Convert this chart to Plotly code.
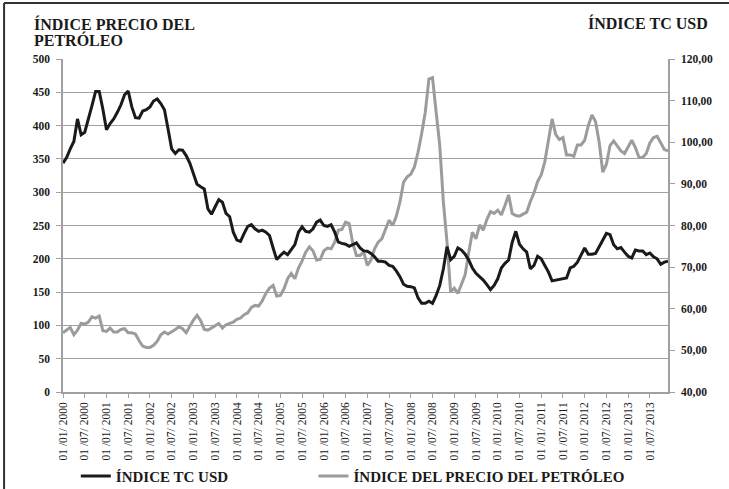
import plotly.graph_objects as go

months = [f"{y}-{m:02d}" for y in range(2000, 2014) for m in range(1, 13)]

tc_usd = [95.0, 96.3, 98.4, 100.2, 105.6, 101.8, 102.4, 105.3, 108.8, 112.2, 112.2, 108.0,
          103.0, 104.5, 105.6, 107.2, 109.0, 111.4, 112.3, 108.5, 105.9, 105.8, 107.5, 107.8,
          108.5, 109.9, 110.4, 109.3, 107.8, 103.2, 98.4, 97.3, 98.2, 98.1, 96.8, 95.0,
          92.5, 89.9, 89.3, 88.8, 84.0, 82.7, 84.5, 86.2, 85.6, 82.9, 82.1, 78.4,
          76.5, 76.2, 78.1, 79.8, 80.2, 79.2, 78.6, 78.9, 78.4, 77.6, 74.6, 71.8,
          72.8, 73.6, 73.0, 74.1, 75.4, 78.4, 79.7, 78.6, 78.4, 79.2, 80.8, 81.3,
          80.0, 79.8, 80.2, 78.4, 76.0, 75.7, 75.5, 75.0, 75.4, 75.8, 74.6, 73.9,
          73.8, 73.3, 72.5, 71.4, 71.4, 71.2, 70.4, 70.2, 69.1, 67.7, 65.9, 65.4,
          65.3, 65.0, 62.6, 61.3, 61.3, 61.8, 61.3, 63.2, 65.6, 69.6, 74.9, 71.8,
          72.6, 74.6, 74.1, 73.1, 71.7, 69.8, 68.5, 67.8, 66.9, 65.8, 64.6, 65.6,
          67.2, 69.8, 70.9, 71.7, 76.0, 78.6, 75.5, 74.4, 73.6, 69.6, 70.4, 72.6,
          72.0, 70.4, 68.8, 66.7, 66.9, 67.0, 67.2, 67.4, 69.8, 70.2, 71.2, 73.1,
          74.6, 73.1, 73.1, 73.3, 74.9, 76.5, 78.1, 77.8, 75.4, 74.4, 74.7, 73.6,
          72.6, 72.2, 74.1, 73.9, 73.9, 73.0, 73.4, 72.5, 72.0, 70.7, 71.2, 71.4]

petroleo = [89, 93, 97, 86, 93, 103, 102, 105, 113, 111, 114, 92,
            91, 96, 90, 90, 94, 95, 89, 89, 87, 77, 69, 67,
            67, 70, 76, 86, 90, 87, 90, 94, 98, 95, 89, 99,
            108, 115, 107, 94, 93, 96, 100, 103, 96, 101, 103, 105,
            109, 111, 116, 119, 127, 130, 129, 137, 148, 156, 160, 144,
            145, 155, 170, 178, 170, 186, 197, 210, 218, 212, 198, 199,
            212, 216, 215, 225, 243, 244, 255, 253, 223, 205, 205, 210,
            190, 198, 215, 225, 230, 243, 258, 250, 264, 285, 315, 323,
            327, 338, 360, 388, 420, 470, 472, 420, 370, 285, 225, 150,
            156, 148, 162, 176, 210, 240, 230, 251, 243, 259, 271, 268,
            273, 266, 280, 296, 268, 265, 264, 267, 270, 286, 299, 316,
            326, 346, 381, 410, 387, 379, 382, 356, 356, 354, 371, 371,
            378, 400, 416, 406, 375, 330, 342, 370, 377, 370, 362, 358,
            367, 378, 367, 352, 352, 358, 374, 382, 384, 373, 364, 362]

tick_idx = list(range(0, len(months), 6))
tick_vals = [months[i] for i in tick_idx]
tick_text = [f"01 /{months[i][5:7]}/ {months[i][:4]}" for i in tick_idx]

SERIF = "Liberation Serif, Times New Roman, serif"
GRID = "#a0a0a0"
INK = "#1a1a1a"
LEG_FONT = dict(family=SERIF, size=15, color=INK, weight="bold")

fig = go.Figure()
fig.add_trace(go.Scatter(x=months, y=tc_usd, name="ÍNDICE TC USD", mode="lines",
                         line=dict(color=INK, width=3), yaxis="y2", legend="legend"))
fig.add_trace(go.Scatter(x=months, y=petroleo, name="ÍNDICE DEL PRECIO DEL PETRÓLEO", mode="lines",
                         line=dict(color="#9c9c9c", width=3), yaxis="y", legend="legend2"))

fig.update_layout(
    width=729, height=489,
    margin=dict(l=63, r=61, t=59, b=97),
    paper_bgcolor="white", plot_bgcolor="white",
    separators=",.",
    font=dict(family=SERIF, color=INK, size=11),
    showlegend=True,
    legend=dict(orientation="h", xref="container", yref="container",
                x=0.104, y=0.026, xanchor="left", yanchor="middle",
                bgcolor="rgba(0,0,0,0)", font=LEG_FONT),
    legend2=dict(orientation="h", xref="container", yref="container",
                 x=0.43, y=0.026, xanchor="left", yanchor="middle",
                 bgcolor="rgba(0,0,0,0)", font=LEG_FONT),
    xaxis=dict(type="category", range=[0, len(months) - 1], automargin=False,
               tickmode="array", tickvals=tick_vals, ticktext=tick_text,
               tickangle=-90, ticks="outside", ticklen=4, tickcolor=GRID,
               showline=True, linecolor=GRID, linewidth=1.5, showgrid=False,
               tickfont=dict(family=SERIF, size=11.5, color=INK)),
    yaxis=dict(range=[0, 500], dtick=50, showgrid=True, gridcolor=GRID, gridwidth=1.3,
               showline=True, linecolor=GRID, linewidth=1.5, ticks="outside", ticklen=5,
               tickcolor=GRID, zeroline=False, automargin=False, ticklabelstandoff=4,
               tickfont=dict(family=SERIF, size=11.5, color=INK, weight="bold")),
    yaxis2=dict(range=[40, 120], dtick=10, overlaying="y", side="right", automargin=False,
                tickformat=".2f", showgrid=False, showline=True, linecolor=GRID,
                linewidth=1.5, ticks="outside", ticklen=5, tickcolor=GRID, zeroline=False,
                ticklabelstandoff=4,
                tickfont=dict(family=SERIF, size=11.5, color=INK, weight="bold")),
    annotations=[
        dict(text="<b>ÍNDICE PRECIO DEL</b>", xref="paper", yref="paper",
             x=-0.0512, y=1.1066, xanchor="left", yanchor="middle", align="left",
             showarrow=False, font=dict(family=SERIF, size=16, color=INK)),
        dict(text="<b>PETRÓLEO</b>", xref="paper", yref="paper",
             x=-0.0512, y=1.0571, xanchor="left", yanchor="middle", align="left",
             showarrow=False, font=dict(family=SERIF, size=16, color=INK)),
        dict(text="<b>ÍNDICE TC USD</b>", xref="paper", yref="paper",
             x=1.0693, y=1.108, xanchor="right", yanchor="middle", align="right",
             showarrow=False, font=dict(family=SERIF, size=16, color=INK)),
    ],
    shapes=[
        dict(type="line", xref="paper", yref="paper", x0=-0.0974, x1=1.2, y0=1.168, y1=1.168,
             line=dict(color="#333333", width=2)),
        dict(type="line", xref="paper", yref="paper", x0=-0.0974, x1=-0.0974, y0=1.168, y1=-0.3,
             line=dict(color="#333333", width=2)),
    ],
)

fig.write_html("out.html", config={"displayModeBar": False},
               post_script="document.body.style.margin='0';")
